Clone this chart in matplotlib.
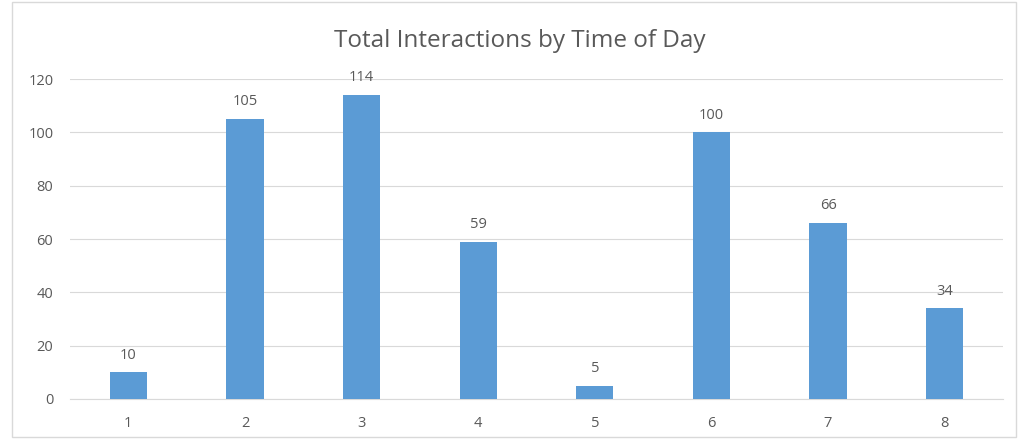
import matplotlib.pyplot as plt
from matplotlib.patches import Rectangle

# interactions per time-of-day slot
slots = [1, 2, 3, 4, 5, 6, 7, 8]
interactions = [10, 105, 114, 59, 5, 100, 66, 34]
y_ticks = [0, 20, 40, 60, 80, 100, 120]

plt.rcParams['font.family'] = ['Open Sans', 'DejaVu Sans']

fig = plt.figure(figsize=(10.25, 4.46), dpi=100)
ax = fig.add_axes([70 / 1025, 1 - 399 / 446, 933 / 1025, 320 / 446])

# light frame around the whole chart
fig.patches.append(Rectangle((12 / 1025, 1 - 437 / 446), 1004 / 1025, 435 / 446,
                             transform=fig.transFigure, fill=False,
                             edgecolor='#d9d9d9', linewidth=1))

bars = ax.bar(slots, interactions, width=0.32, color='#5b9bd5', zorder=3)
for bar, val in zip(bars, interactions):
    ax.annotate(str(val), (bar.get_x() + bar.get_width() / 2, val),
                xytext=(0, 7), textcoords='offset points',
                ha='center', va='bottom', fontsize=10.5, color='#595959')

ax.set_xlim(0.5, 8.5)
ax.set_ylim(0, 120)
ax.set_xticks(slots)
ax.set_yticks(y_ticks)
ax.grid(axis='y', color='#d9d9d9', linewidth=0.8, zorder=0)
ax.tick_params(length=0, labelsize=10.5, labelcolor='#595959')
ax.tick_params(axis='x', pad=12)
ax.tick_params(axis='y', pad=12)
for side in ['top', 'right', 'left']:
    ax.spines[side].set_visible(False)
ax.spines['bottom'].set_color('#d9d9d9')

fig.suptitle('Total Interactions by Time of Day', x=520 / 1025, y=1 - 41 / 446,
             va='center', fontsize=17.5, color='#595959')

fig.savefig('out.png', dpi=100, facecolor='white')
